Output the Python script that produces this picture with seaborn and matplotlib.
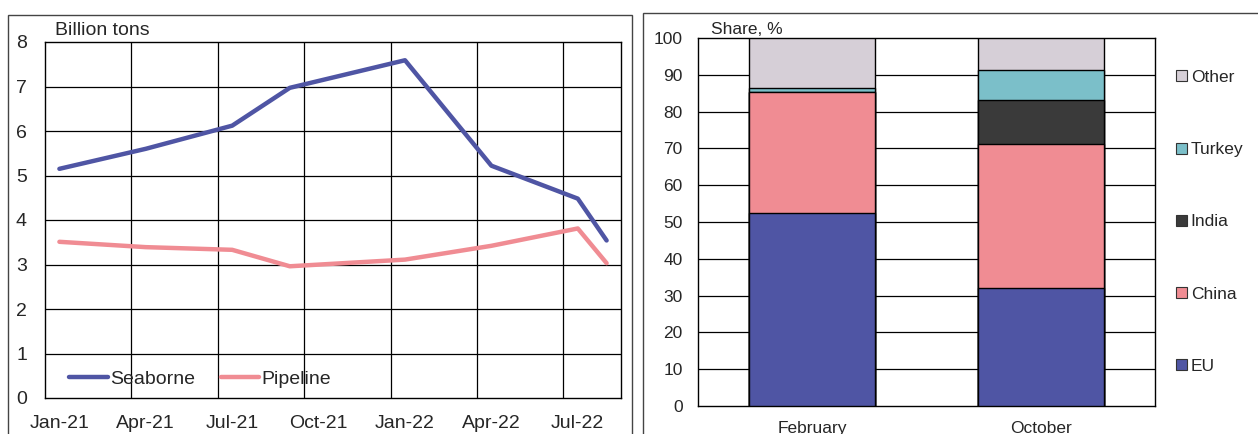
import matplotlib
matplotlib.use("Agg")
import matplotlib.pyplot as plt
from matplotlib.patches import Rectangle, Patch
from matplotlib.lines import Line2D
import seaborn as sns
import pandas as pd
import numpy as np

# ---------------- data ----------------
all_months = pd.date_range("2021-01-01", "2022-08-01", freq="MS")
point_dates = ["2021-01", "2021-04", "2021-07", "2021-09", "2022-01", "2022-04", "2022-07", "2022-08"]
seaborne = [5.15, 5.60, 6.12, 6.97, 7.59, 5.22, 4.48, 3.54]
pipeline = [3.51, 3.39, 3.33, 2.96, 3.11, 3.42, 3.81, 3.03]
x_tick_labels = ["Jan-21", "Apr-21", "Jul-21", "Oct-21", "Jan-22", "Apr-22", "Jul-22"]

bar_categories = ["February", "October"]
regions = ["EU", "China", "India", "Turkey", "Other"]
eu = [52.4, 32.0]
china = [32.8, 39.2]
india = [0.0, 12.0]
turkey = [1.3, 8.2]
other = [13.5, 8.6]

colors = {"EU": "#4F55A4", "China": "#F08C93", "India": "#3A3A3A",
          "Turkey": "#7BBFC9", "Other": "#D6CFD7"}
line_colors = {"Seaborne": "#4F55A4", "Pipeline": "#F08C93"}

# ---------------- style ----------------
sns.set_theme(style="white")
plt.rcParams["font.family"] = ["Liberation Sans", "DejaVu Sans"]

fig = plt.figure(figsize=(12.58, 4.34), dpi=100)
W, H = 1258, 434

# panel frames
fig.patches.append(Rectangle((8 / W, -0.1), (632 - 8) / W, 1.1 - 15 / H,
                             transform=fig.transFigure, fill=False,
                             edgecolor="#444444", lw=1.0))
fig.patches.append(Rectangle((643 / W, -0.1), (1270 - 643) / W, 1.1 - 13 / H,
                             transform=fig.transFigure, fill=False,
                             edgecolor="#444444", lw=1.0))

# ---------------- left: line chart ----------------
FS1 = 14
ax1 = fig.add_axes([45 / W, 1 - 398 / H, 576 / W, 356 / H])
month_index = {d.strftime("%Y-%m"): i for i, d in enumerate(all_months)}
xs = [month_index[d] for d in point_dates]
df = pd.DataFrame({"m": xs * 2,
                   "value": seaborne + pipeline,
                   "series": ["Seaborne"] * len(xs) + ["Pipeline"] * len(xs)})
sns.lineplot(data=df, x="m", y="value", hue="series", palette=line_colors,
             linewidth=3.2, ax=ax1, legend=False, sort=False)

ax1.set_xlim(-0.5, len(all_months) - 0.5)
ax1.set_ylim(0, 8)
ax1.set_yticks(range(0, 9))
ax1.set_yticklabels([str(i) for i in range(0, 9)], fontsize=FS1)
ax1.set_xticks(range(0, len(all_months), 3))
ax1.set_xticklabels(x_tick_labels, fontsize=FS1)
ax1.set_xticks(np.arange(2.5, len(all_months) - 1, 3), minor=True)
ax1.tick_params(axis="x", which="major", length=0, pad=12)
ax1.tick_params(axis="x", which="minor", length=4, color="black", direction="out")
ax1.tick_params(axis="y", length=0, pad=13)
ax1.set_xlabel("")
ax1.set_ylabel("")
for v in range(1, 8):
    ax1.axhline(v, color="black", lw=0.9, zorder=0)
for v in np.arange(2.5, len(all_months) - 1, 3):
    ax1.axvline(v, color="black", lw=0.9, zorder=0)
for s in ax1.spines.values():
    s.set_color("black")
    s.set_linewidth(1.0)
ax1.text(0.017, 1.008, "Billion tons", transform=ax1.transAxes, fontsize=FS1,
         ha="left", va="bottom")
handles = [Line2D([0], [0], color=line_colors[k], lw=3.2) for k in ["Seaborne", "Pipeline"]]
ax1.legend(handles, ["Seaborne", "Pipeline"], loc="lower left", ncol=2,
           bbox_to_anchor=(0.012, -0.02), frameon=False, fontsize=FS1,
           handlelength=2.0, handletextpad=0.1, columnspacing=1.3)

# ---------------- right: stacked bars ----------------
FS2 = 12.5
ax2 = fig.add_axes([698 / W, 1 - 406 / H, 457 / W, 368 / H])
bdf = pd.DataFrame({"cat": bar_categories, "EU": eu, "China": china,
                    "India": india, "Turkey": turkey, "Other": other})
bottom = np.zeros(len(bar_categories))
for r in regions:
    cum = bottom + bdf[r].values
    sns.barplot(x=bdf["cat"], y=cum, color=colors[r], width=0.55, saturation=1,
                edgecolor="black", linewidth=1.0, ax=ax2)
    bottom = cum
# lower segments drawn above the taller cumulative bars
for i, p in enumerate(ax2.patches):
    p.set_zorder(10 - i // len(bar_categories))

ax2.set_xlim(-0.5, 1.5)
ax2.set_ylim(0, 100)
ax2.set_yticks(range(0, 101, 10))
ax2.set_yticklabels([str(v) for v in range(0, 101, 10)], fontsize=FS2)
ax2.tick_params(axis="y", length=0, pad=11)
ax2.tick_params(axis="x", length=0, pad=11, labelsize=FS2)
ax2.set_xlabel("")
ax2.set_ylabel("")
for v in range(10, 100, 10):
    ax2.axhline(v, color="black", lw=0.9, zorder=0)
for s in ax2.spines.values():
    s.set_color("black")
    s.set_linewidth(1.0)
ax2.text(0.028, 1.003, "Share, %", transform=ax2.transAxes, fontsize=FS2,
         ha="left", va="bottom")
leg_handles = [Patch(facecolor=colors[r], edgecolor="#333333", lw=0.8) for r in regions[::-1]]
ax2.legend(leg_handles, regions[::-1], loc="center left", bbox_to_anchor=(1.012, 0.5),
           frameon=False, fontsize=12.5, handlelength=0.6, handleheight=0.6,
           handletextpad=0.25, labelspacing=3.3)

fig.savefig("out.png", dpi=100)
